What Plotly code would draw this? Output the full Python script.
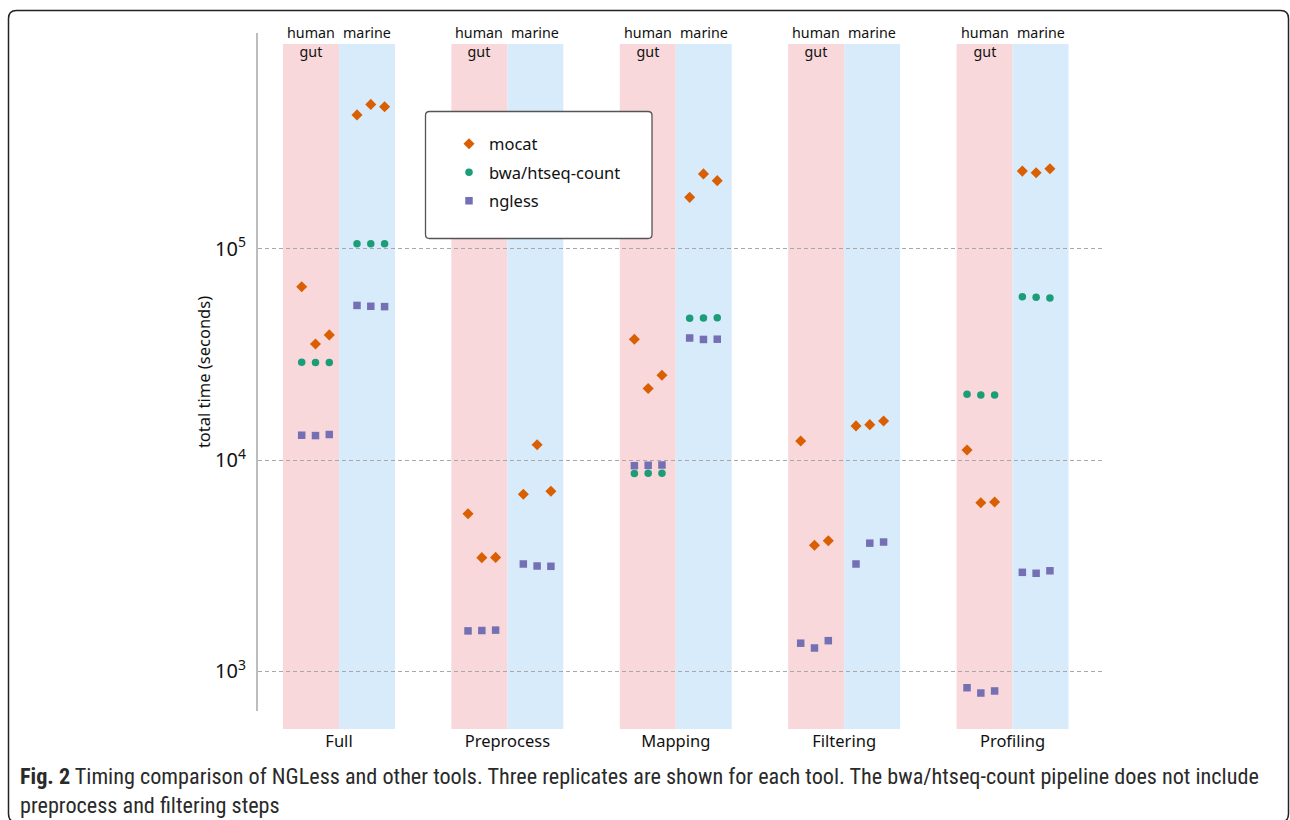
import plotly.graph_objects as go

# ---------------- data ----------------
steps = ["Full", "Preprocess", "Mapping", "Filtering", "Profiling"]
datasets = ["human<br>gut", "marine"]

# seconds, 3 replicates per (step, dataset); None = not run
mocat_human = [[66100, 35400, 39100], [5570, 3450, 3460], [37300, 21800, 25200],
               [12300, 3950, 4150], [11150, 6270, 6330]]
mocat_marine = [[430000, 482000, 470000], [6890, 11800, 7110], [175000, 226000, 210000],
                [14500, 14700, 15300], [233000, 229000, 239000]]
bwa_human = [[29000, 28900, 28900], None, [8640, 8650, 8660], None, [20500, 20300, 20300]]
bwa_marine = [[105600, 105600, 105600], None, [46900, 47000, 47100], None, [59300, 58900, 58500]]
ngless_human = [[13100, 13050, 13200], [1553, 1559, 1566], [9400, 9440, 9470],
                [1358, 1289, 1396], [836, 789, 807]]
ngless_marine = [[53900, 53400, 53200], [3220, 3150, 3140], [37800, 37200, 37300],
                 [3220, 4040, 4090], [2940, 2910, 2990]]

y_tick_vals = [1e3, 1e4, 1e5]
y_tick_text = ["10<sup>3</sup>", "10<sup>4</sup>", "10<sup>5</sup>"]

# ---------------- layout geometry ----------------
W, H = 1290, 820
L, R, T, B = 258, 1105, 33, 711
PW, PH = R - L, B - T


def pxx(px):
    return (px - L) / PW


def pxy(py):
    return (B - py) / PH


BAND_W = 0.3325          # band width in group units
PT_GROUP = 0.9878        # point group spacing (group units)
PT_FIRST = {0: -0.2215, 1: 0.1069}
PT_STEP = 0.0819


def xs(series_by_step, ds):
    x, y = [], []
    for i, reps in enumerate(series_by_step):
        if reps is None:
            continue
        for j, v in enumerate(reps):
            x.append(i * PT_GROUP + PT_FIRST[ds] + j * PT_STEP)
            y.append(v)
    return x, y


fig = go.Figure()

tools = [
    ("mocat", mocat_human, mocat_marine, "diamond", "#d95f02", 8.5),
    ("bwa/htseq-count", bwa_human, bwa_marine, "circle", "#1b9e77", 7.5),
    ("ngless", ngless_human, ngless_marine, "square", "#7570b3", 7.5),
]
for name, hum, mar, sym, col, size in tools:
    xh, yh = xs(hum, 0)
    xm, ym = xs(mar, 1)
    fig.add_trace(go.Scatter(
        x=xh + xm, y=yh + ym, mode="markers", name=name, legendgroup=name,
        marker=dict(symbol=sym, color=col, size=size, line=dict(width=0)),
    ))

shapes = []
band_cols = ["#f8d8db", "#d8ebfb"]
for i in range(len(steps)):
    for d in range(2):
        x0 = i - BAND_W + d * BAND_W
        shapes.append(dict(type="rect", xref="x", yref="paper", x0=x0, x1=x0 + BAND_W,
                           y0=pxy(729), y1=pxy(44), fillcolor=band_cols[d],
                           line=dict(width=0), layer="below"))


def rounded(x0, y0, x1, y1, r):
    X0, X1 = pxx(x0), pxx(x1)
    Y0, Y1 = pxy(y0), pxy(y1)
    rx, ry = r / PW, r / PH
    return (f"M {X0 + rx},{Y0} L {X1 - rx},{Y0} Q {X1},{Y0} {X1},{Y0 - ry} "
            f"L {X1},{Y1 + ry} Q {X1},{Y1} {X1 - rx},{Y1} L {X0 + rx},{Y1} "
            f"Q {X0},{Y1} {X0},{Y1 + ry} L {X0},{Y0 - ry} Q {X0},{Y0} {X0 + rx},{Y0} Z")


# legend box
shapes.append(dict(type="path", xref="paper", yref="paper",
                   path=rounded(425.5, 111.5, 652, 238.5, 4),
                   fillcolor="white", line=dict(color="#555", width=1.3), layer="above"))
# figure frame
shapes.append(dict(type="path", xref="paper", yref="paper",
                   path=rounded(8.5, 10.5, 1288.5, 822, 8),
                   fillcolor="rgba(0,0,0,0)", line=dict(color="#222", width=1.5), layer="above"))

annotations = []
for i in range(len(steps)):
    annotations.append(dict(x=i - BAND_W / 2, y=pxy(21), xref="x", yref="paper",
                            text=datasets[0], showarrow=False, yanchor="top",
                            font=dict(size=14.3, color="#111"), align="center"))
    annotations.append(dict(x=i + BAND_W / 2, y=pxy(21), xref="x", yref="paper",
                            text=datasets[1], showarrow=False, yanchor="top",
                            font=dict(size=14.3, color="#111"), align="center"))

cap_font = "Liberation Sans Narrow, Roboto Condensed, Noto Sans"
annotations.append(dict(
    x=pxx(18), y=pxy(761), xref="paper", yref="paper", xanchor="left", yanchor="top",
    showarrow=False, align="left",
    text="<b>Fig. 2</b> Timing comparison of NGLess and other tools. Three replicates are shown for each tool. "
         "The bwa/htseq-count pipeline does not include<br>preprocess and filtering steps",
    font=dict(family=cap_font, size=22.2, color="#2a2a2a")))

fig.update_layout(
    width=W, height=H,
    margin=dict(l=L, r=W - R, t=T, b=H - B, autoexpand=False),
    paper_bgcolor="white", plot_bgcolor="rgba(0,0,0,0)",
    font=dict(family="Noto Sans", color="#111"),
    shapes=shapes, annotations=annotations,
    showlegend=True,
    legend=dict(x=pxx(449), y=pxy(126.5), xanchor="left", yanchor="top",
                bgcolor="rgba(0,0,0,0)", borderwidth=0,
                font=dict(size=16.5, color="#111"),
                traceorder="grouped", tracegroupgap=4, itemwidth=30),
    xaxis=dict(range=[-0.481, 4.549], showgrid=False, zeroline=False, showline=False,
               tickvals=list(range(len(steps))), ticktext=steps, ticks="",
               ticklabelstandoff=18, tickfont=dict(size=16.5, color="#111")),
    yaxis=dict(type="log", range=[2.812, 6.021], tickvals=y_tick_vals, ticktext=y_tick_text,
               ticks="", showline=True, linecolor="#bdbdbd", linewidth=2,
               showgrid=True, gridcolor="#a8a8a8", gridwidth=1.3, griddash="4px,3px",
               zeroline=False, tickfont=dict(size=20, color="#111"), ticklabelstandoff=6,
               title=dict(text="total time (seconds)", font=dict(size=16.5, color="#111"), standoff=0)),
)

fig.write_html("out.html", config={"displayModeBar": False},
               post_script="document.body.style.margin='0';document.body.style.overflow='hidden';")
